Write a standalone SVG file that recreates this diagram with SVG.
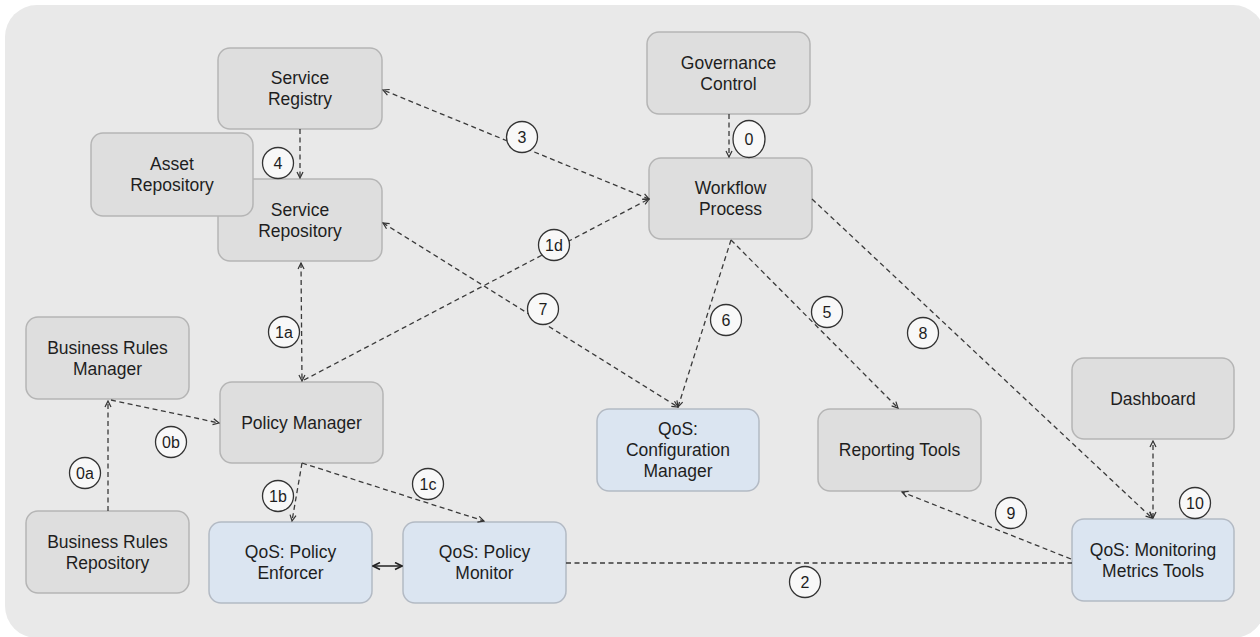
<svg xmlns="http://www.w3.org/2000/svg" width="1260" height="637" viewBox="0 0 1260 637">
  <style>
    .node rect { stroke-width: 1.5; }
    .gray rect { fill: #dedede; stroke: #b5b5b5; }
    .blue rect { fill: #dbe5f1; stroke: #b3bac4; }
    .node text { font-family: "Liberation Sans", Arial, sans-serif; font-size: 17.5px; fill: #1e1e1e; text-anchor: middle; }
    .dash { fill: none; stroke: #3a3a3a; stroke-width: 1.3; stroke-dasharray: 5 3.5; }
    .solid { fill: none; stroke: #222; stroke-width: 1.5; }
    .tag circle, .tag ellipse { fill: #f8f8f8; stroke: #333; stroke-width: 1.3; }
    .tag text { font-family: "Liberation Sans", Arial, sans-serif; font-size: 16px; fill: #1e1e1e; text-anchor: middle; }
  </style>
  <defs>
    <marker id="arr" viewBox="0 0 8 8" refX="7" refY="4" markerWidth="8" markerHeight="8" markerUnits="userSpaceOnUse" orient="auto-start-reverse">
      <path d="M1,1 L7,4 L1,7" fill="none" stroke="#333" stroke-width="1.2" stroke-dasharray="none"/>
    </marker>
    <marker id="arrs" viewBox="0 0 9 9" refX="8" refY="4.5" markerWidth="9" markerHeight="9" markerUnits="userSpaceOnUse" orient="auto-start-reverse">
      <path d="M1,1 L8,4.5 L1,8" fill="none" stroke="#222" stroke-width="1.6" stroke-dasharray="none"/>
    </marker>
  </defs>

  <rect x="0" y="0" width="1260" height="637" fill="#ffffff"/>
  <rect x="5" y="5" width="1260" height="633" rx="32" fill="#e9e9e9"/>

  <!-- nodes -->
  <g id="service-registry" class="node gray">
    <rect x="218" y="48" width="164" height="81" rx="12"/>
    <text x="300" y="84.25">Service</text>
    <text x="300" y="105.25">Registry</text>
  </g>
  <g id="service-repository" class="node gray">
    <rect x="218" y="179" width="164" height="82" rx="12"/>
    <text x="300" y="215.75">Service</text>
    <text x="300" y="236.75">Repository</text>
  </g>
  <g id="asset-repository" class="node gray">
    <rect x="91" y="133" width="162" height="83" rx="12"/>
    <text x="172" y="170.25">Asset</text>
    <text x="172" y="191.25">Repository</text>
  </g>
  <g id="governance-control" class="node gray">
    <rect x="647" y="32" width="163" height="82" rx="12"/>
    <text x="728.5" y="68.75">Governance</text>
    <text x="728.5" y="89.75">Control</text>
  </g>
  <g id="workflow-process" class="node gray">
    <rect x="649" y="158" width="163" height="81" rx="12"/>
    <text x="730.5" y="194.25">Workflow</text>
    <text x="730.5" y="215.25">Process</text>
  </g>
  <g id="business-rules-manager" class="node gray">
    <rect x="26" y="317" width="163" height="82" rx="12"/>
    <text x="107.5" y="353.75">Business Rules</text>
    <text x="107.5" y="374.75">Manager</text>
  </g>
  <g id="policy-manager" class="node gray">
    <rect x="220" y="382" width="163" height="81" rx="12"/>
    <text x="301.5" y="428.75">Policy Manager</text>
  </g>
  <g id="business-rules-repository" class="node gray">
    <rect x="26" y="511" width="163" height="82" rx="12"/>
    <text x="107.5" y="547.75">Business Rules</text>
    <text x="107.5" y="568.75">Repository</text>
  </g>
  <g id="policy-enforcer" class="node blue">
    <rect x="209" y="522" width="163" height="81" rx="12"/>
    <text x="290.5" y="558.25">QoS: Policy</text>
    <text x="290.5" y="579.25">Enforcer</text>
  </g>
  <g id="policy-monitor" class="node blue">
    <rect x="403" y="522" width="163" height="81" rx="12"/>
    <text x="484.5" y="558.25">QoS: Policy</text>
    <text x="484.5" y="579.25">Monitor</text>
  </g>
  <g id="configuration-manager" class="node blue">
    <rect x="597" y="409" width="162" height="82" rx="12"/>
    <text x="678" y="435.25">QoS:</text>
    <text x="678" y="456.25">Configuration</text>
    <text x="678" y="477.25">Manager</text>
  </g>
  <g id="reporting-tools" class="node gray">
    <rect x="818" y="409" width="163" height="82" rx="12"/>
    <text x="899.5" y="456.25">Reporting Tools</text>
  </g>
  <g id="dashboard" class="node gray">
    <rect x="1072" y="358" width="162" height="81" rx="12"/>
    <text x="1153" y="404.75">Dashboard</text>
  </g>
  <g id="monitoring-metrics-tools" class="node blue">
    <rect x="1072" y="519" width="162" height="82" rx="12"/>
    <text x="1153" y="555.75">QoS: Monitoring</text>
    <text x="1153" y="576.75">Metrics Tools</text>
  </g>

  <!-- connectors -->
  <g id="connectors">
    <line class="dash" x1="729" y1="114" x2="729" y2="157" marker-end="url(#arr)"/>
    <line class="dash" x1="649" y1="199" x2="383" y2="90" marker-start="url(#arr)" marker-end="url(#arr)"/>
    <line class="dash" x1="300" y1="129" x2="300" y2="178" marker-end="url(#arr)"/>
    <line class="dash" x1="301" y1="263" x2="302" y2="381" marker-start="url(#arr)" marker-end="url(#arr)"/>
    <line class="dash" x1="304" y1="380" x2="649" y2="199" marker-end="url(#arr)"/>
    <line class="dash" x1="383" y1="223" x2="678" y2="407" marker-start="url(#arr)" marker-end="url(#arr)"/>
    <line class="dash" x1="731" y1="240" x2="678" y2="407" marker-end="url(#arr)"/>
    <line class="dash" x1="731" y1="240" x2="898" y2="408" marker-end="url(#arr)"/>
    <line class="dash" x1="812" y1="199" x2="1152" y2="518" marker-end="url(#arr)"/>
    <line class="dash" x1="1153" y1="518" x2="1153" y2="441" marker-start="url(#arr)" marker-end="url(#arr)"/>
    <line class="dash" x1="1071" y1="559" x2="902" y2="492" marker-end="url(#arr)"/>
    <line class="dash" x1="566" y1="563" x2="1072" y2="563"/>
    <line class="solid" x1="373" y1="566" x2="402" y2="566" marker-start="url(#arrs)" marker-end="url(#arrs)"/>
    <line class="dash" x1="302" y1="463" x2="292" y2="521" marker-end="url(#arr)"/>
    <line class="dash" x1="302" y1="463" x2="484" y2="521" marker-end="url(#arr)"/>
    <line class="dash" x1="108" y1="511" x2="108" y2="401" marker-end="url(#arr)"/>
    <line class="dash" x1="111" y1="400" x2="219" y2="423" marker-end="url(#arr)"/>

    <!-- step tags -->
    <g class="tag"><ellipse cx="749" cy="139" rx="16" ry="18.5"/><text x="749" y="145">0</text></g>
    <g class="tag"><circle cx="522" cy="137" r="15.5"/><text x="522" y="143">3</text></g>
    <g class="tag"><circle cx="278" cy="163" r="15.5"/><text x="278" y="169">4</text></g>
    <g class="tag"><circle cx="554" cy="245" r="15.5"/><text x="554" y="251">1d</text></g>
    <g class="tag"><circle cx="284" cy="332" r="15.5"/><text x="284" y="338">1a</text></g>
    <g class="tag"><circle cx="543" cy="309" r="15.5"/><text x="543" y="315">7</text></g>
    <g class="tag"><circle cx="726" cy="320" r="15.5"/><text x="726" y="326">6</text></g>
    <g class="tag"><circle cx="827" cy="312" r="15.5"/><text x="827" y="318">5</text></g>
    <g class="tag"><circle cx="923" cy="333" r="15.5"/><text x="923" y="339">8</text></g>
    <g class="tag"><circle cx="171" cy="442" r="15.5"/><text x="171" y="448">0b</text></g>
    <g class="tag"><circle cx="85" cy="473" r="15.5"/><text x="85" y="479">0a</text></g>
    <g class="tag"><circle cx="278" cy="496" r="15.5"/><text x="278" y="502">1b</text></g>
    <g class="tag"><circle cx="428" cy="484" r="15.5"/><text x="428" y="490">1c</text></g>
    <g class="tag"><circle cx="1195" cy="503" r="15.5"/><text x="1195" y="509">10</text></g>
    <g class="tag"><circle cx="1011" cy="513" r="15.5"/><text x="1011" y="519">9</text></g>
    <g class="tag"><circle cx="805" cy="582" r="15.5"/><text x="805" y="588">2</text></g>
  </g>
</svg>
